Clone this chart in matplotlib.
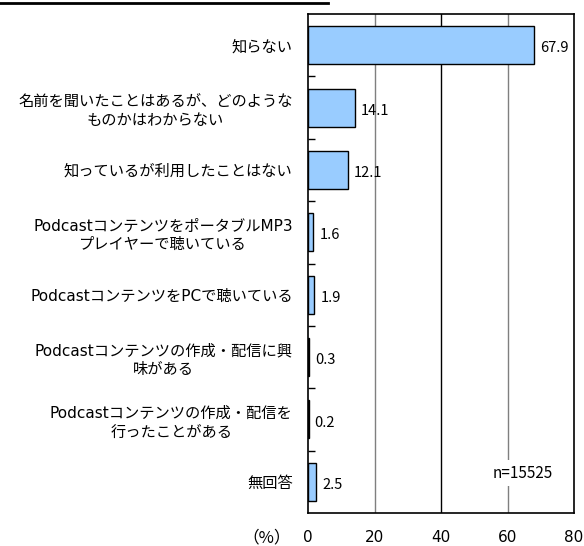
import matplotlib.pyplot as plt
from matplotlib.lines import Line2D

plt.rcParams["font.family"] = ["Noto Sans CJK JP", "DejaVu Sans"]
LABEL_FONT = ["DejaVu Sans", "Noto Sans CJK JP"]

categories = [
    "知らない",
    "名前を聞いたことはあるが、どのような\nものかはわからない",
    "知っているが利用したことはない",
    "PodcastコンテンツをポータブルMP3\nプレイヤーで聴いている",
    "PodcastコンテンツをPCで聴いている",
    "Podcastコンテンツの作成・配信に興\n味がある",
    "Podcastコンテンツの作成・配信を\n行ったことがある",
    "無回答",
]
values = [67.9, 14.1, 12.1, 1.6, 1.9, 0.3, 0.2, 2.5]
value_labels = ["67.9", "14.1", "12.1", "1.6", "1.9", "0.3", "0.2", "2.5"]
x_ticks = [0, 20, 40, 60, 80]
sample_note = "n=15525"

fig = plt.figure(figsize=(5.84, 5.46), dpi=100)
ax = fig.add_axes([308 / 584, 1 - 513 / 546, 266 / 584, 499 / 546])

positions = list(range(len(categories)))

# grid lines behind bars: 20/60 grey, 40 black
for x, color in [(20, "#7f7f7f"), (40, "black"), (60, "#7f7f7f")]:
    ax.axvline(x, color=color, linewidth=1.0, zorder=0)

ax.barh(positions, values, height=0.61, color="#99CCFF",
        edgecolor="black", linewidth=1.0, zorder=2)

for pos, val, lab in zip(positions, values, value_labels):
    ax.text(val + 1.8, pos + 0.05, lab, va="center", ha="left",
            fontsize=10.5, zorder=3)

ax.text(64.7, 6.86, sample_note, ha="center", va="center", fontsize=11,
        zorder=3, bbox=dict(facecolor="white", edgecolor="none", pad=3))

ax.set_xlim(0, 80)
ax.set_ylim(len(categories) - 0.5, -0.5)

ax.set_xticks(x_ticks)
ax.set_xticklabels([str(t) for t in x_ticks], fontsize=11,
                   family=["DejaVu Sans"])
ax.tick_params(axis="x", length=0, pad=12)

# boundary ticks drawn inward, labels sit on minor ticks at bar centres
ax.set_yticks([p + 0.5 for p in positions[:-1]])
ax.set_yticklabels([])
ax.tick_params(axis="y", which="major", direction="in", length=5, width=1)
ax.set_yticks(positions, minor=True)
ax.set_yticklabels(categories, minor=True, fontsize=11, family=LABEL_FONT,
                   multialignment="center", linespacing=1.3)
ax.tick_params(axis="y", which="minor", length=0, pad=11)

for spine in ax.spines.values():
    spine.set_color("black")
    spine.set_linewidth(1.2)

fig.text(291 / 584, 1 - 538 / 546, "（%）", ha="right", va="center",
         fontsize=12)

# underline of the clipped heading at the top
fig.add_artist(Line2D([0, 328 / 584], [1 - 2.5 / 546, 1 - 2.5 / 546],
                      color="black", linewidth=2))

fig.savefig("out.png", dpi=100, facecolor="white")
